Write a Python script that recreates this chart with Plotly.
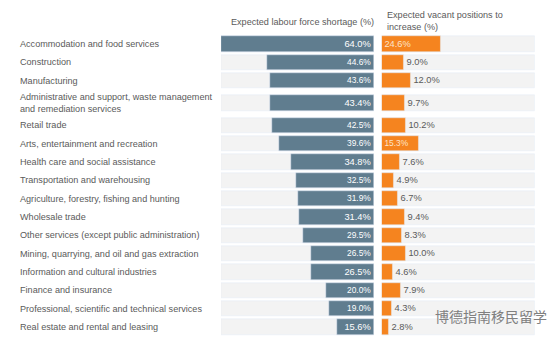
import plotly.graph_objects as go

categories = [
    "Accommodation and food services",
    "Construction",
    "Manufacturing",
    "Administrative and support, waste management<br>and remediation services",
    "Retail trade",
    "Arts, entertainment and recreation",
    "Health care and social assistance",
    "Transportation and warehousing",
    "Agriculture, forestry, fishing and hunting",
    "Wholesale trade",
    "Other services (except public administration)",
    "Mining, quarrying, and oil and gas extraction",
    "Information and cultural industries",
    "Finance and insurance",
    "Professional, scientific and technical services",
    "Real estate and rental and leasing",
]
shortage = [64.0, 44.6, 43.6, 43.4, 42.5, 39.6, 34.8, 32.5, 31.9, 31.4, 29.5, 26.5, 26.5, 20.0, 19.0, 15.6]
vacant = [24.6, 9.0, 12.0, 9.7, 10.2, 15.3, 7.6, 4.9, 6.7, 9.4, 8.3, 10.0, 4.6, 7.9, 4.3, 2.8]
header_left = "Expected labour force shortage (%)"
header_right = "Expected vacant positions to<br>increase (%)"
watermark = "博德指南移民留学"

W, H = 554, 342
FONT = "Liberation Sans, Arial, sans-serif"
BLUE = "#607d8f"
ORANGE = "#f5841f"
BAND = "#f3f3f3"
TXT = "#5a5a5a"

# row positions: two-line labels get taller rows
heights = [1.43 if "<br>" in c else 1.0 for c in categories]
pos = []
acc = 0.0
for h in heights:
    pos.append(acc + h / 2)
    acc += h
px_per_unit = 18.34
top_off = 34.83
y_top = -top_off / px_per_unit
y_bot = (H - top_off) / px_per_unit

xmax = max(shortage)
n = len(categories)
bw = 0.83
FS = 9.1

fig = go.Figure()
fig.add_trace(go.Bar(y=pos, x=[xmax] * n, orientation="h", marker_color=BAND, width=bw,
                     xaxis="x", yaxis="y", hoverinfo="skip", showlegend=False))
fig.add_trace(go.Bar(y=pos, x=[xmax] * n, orientation="h", marker_color=BAND, width=bw,
                     xaxis="x2", yaxis="y", hoverinfo="skip", showlegend=False))
fig.add_trace(go.Bar(y=pos, x=shortage, orientation="h", marker_color=BLUE, width=bw,
                     xaxis="x", yaxis="y", showlegend=False,
                     text=[f"{v:.1f}%" for v in shortage], textposition="inside",
                     insidetextanchor="start", textangle=0,
                     insidetextfont=dict(color="white", size=9.3, family=FONT)))
fig.add_trace(go.Bar(y=pos, x=vacant, orientation="h", marker_color=ORANGE, width=bw,
                     xaxis="x2", yaxis="y", showlegend=False,
                     text=[f"{v:.1f}%" for v in vacant],
                     textposition=["inside" if v >= 15 else "outside" for v in vacant],
                     insidetextanchor="start", textangle=0, cliponaxis=False,
                     insidetextfont=dict(color="#fde3c8", size=9.3, family=FONT),
                     outsidetextfont=dict(color=TXT, size=9.3, family=FONT)))

annotations = []
for c, p in zip(categories, pos):
    annotations.append(dict(text=c, x=18 / W, xref="paper", y=p, yref="y",
                            xanchor="left", yanchor="middle", align="left", showarrow=False,
                            font=dict(size=FS, color=TXT, family=FONT)))
annotations.append(dict(text=header_left, x=376 / W, xref="paper", y=1 - 22 / H, yref="paper",
                        xanchor="right", yanchor="middle", showarrow=False,
                        font=dict(size=FS, color=TXT, family=FONT)))
annotations.append(dict(text=header_right, x=385 / W, xref="paper", y=1 - 21 / H, yref="paper",
                        xanchor="left", yanchor="middle", align="left", showarrow=False,
                        font=dict(size=FS, color=TXT, family=FONT)))
annotations.append(dict(text=watermark, x=433 / W, xref="paper", y=1 - 316 / H, yref="paper",
                        xanchor="left", yanchor="middle", showarrow=False,
                        font=dict(size=14, color="#808080", family="Noto Sans CJK SC")))

fig.update_layout(
    width=W, height=H, margin=dict(l=0, r=0, t=0, b=0),
    paper_bgcolor="white", plot_bgcolor="white",
    barmode="overlay", bargap=0,
    xaxis=dict(domain=[221 / W, 374 / W], range=[xmax, 0], visible=False, fixedrange=True),
    xaxis2=dict(domain=[381.7 / W, 535 / W], range=[0, xmax], visible=False, fixedrange=True),
    yaxis=dict(range=[y_bot, y_top], visible=False, fixedrange=True),
    annotations=annotations,
    font=dict(family=FONT),
)

fig.write_html("out.html")
